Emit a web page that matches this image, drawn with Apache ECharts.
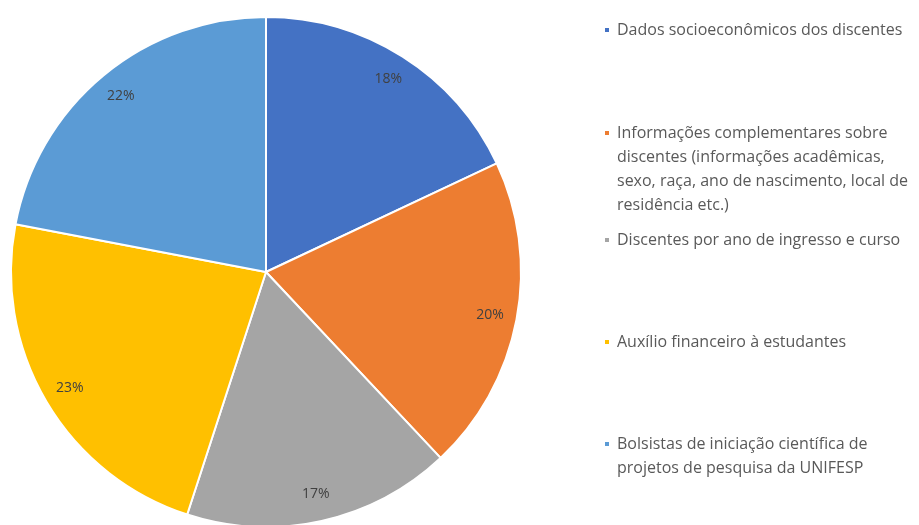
<!DOCTYPE html>
<html>
<head>
<meta charset="utf-8">
<script src="https://cdn.jsdelivr.net/npm/echarts@6/dist/echarts.min.js"></script>
<style>
  html, body { margin: 0; padding: 0; background: #fff; }
  #chart { width: 919px; height: 525px; }
</style>
</head>
<body>
<div id="chart"></div>
<script>
// categories and shares (percent)
const categories = [
    'Dados socioeconômicos dos discentes',
    'Informações complementares sobre discentes (informações acadêmicas, sexo, raça, ano de nascimento, local de residência etc.)',
    'Discentes por ano de ingresso e curso',
    'Auxílio financeiro à estudantes',
    'Bolsistas de iniciação científica de projetos de pesquisa da UNIFESP'
];
const shares = [18, 20, 17, 23, 22];
// how the legend text wraps in the original
const legendLines = [
    ['Dados socioeconômicos dos discentes'],
    ['Informações complementares sobre', 'discentes (informações acadêmicas,', 'sexo, raça, ano de nascimento, local de', 'residência etc.)'],
    ['Discentes por ano de ingresso e curso'],
    ['Auxílio financeiro à estudantes'],
    ['Bolsistas de iniciação científica de', 'projetos de pesquisa da UNIFESP']
];
const colors = ['#4472C4', '#ED7D31', '#A5A5A5', '#FFC000', '#5B9BD5'];

// y of the first text line of each legend entry
const legendLineY = [30, 132, 240, 342, 443];
const LINE_H = 24;
const MARK = 6;

let chart = echarts.init(document.getElementById('chart'));

let pieData = categories.map((name, i) => ({ name: name, value: shares[i] }));

// marker as tall as the text block, with the square drawn beside the first line only
function markerPath(lines) {
    let h = lines * LINE_H;
    let y0 = (LINE_H - MARK) / 2;
    return 'path://M0,0L0.01,0M0,' + h + 'L0.01,' + h +
        'M0,' + y0 + 'h' + MARK + 'v' + MARK + 'h-' + MARK + 'z';
}

let legends = categories.map((name, i) => {
    let n = legendLines[i].length;
    return {
        data: [name],
        orient: 'vertical',
        left: 603,
        top: legendLineY[i] - LINE_H / 2,
        padding: 0,
        icon: n > 1 ? markerPath(n) : 'rect',
        itemWidth: MARK,
        itemHeight: n > 1 ? n * LINE_H : MARK,
        itemGap: 0,
        selectedMode: false,
        textStyle: {
            fontFamily: 'Open Sans',
            fontSize: 16,
            color: '#595959',
            lineHeight: LINE_H,
            padding: [0, 0, 0, 2]
        },
        formatter: function () {
            return legendLines[i].join('\n');
        }
    };
});

let option = {
    animation: false,
    color: colors,
    legend: legends,
    series: [
        {
            type: 'pie',
            center: [266, 272],
            radius: [0, 255],
            startAngle: 90,
            label: { show: false },
            labelLine: { show: false },
            itemStyle: { borderColor: '#fff', borderWidth: 2 },
            emphasis: { disabled: true },
            data: pieData
        },
        {
            // transparent ring only to place the percent labels near the rim
            type: 'pie',
            center: [266, 272],
            radius: [195, 255],
            startAngle: 90,
            silent: true,
            legendHoverLink: false,
            itemStyle: { color: 'transparent' },
            label: {
                show: true,
                position: 'inside',
                formatter: '{c}%',
                fontFamily: 'Open Sans',
                fontSize: 14,
                color: '#404040'
            },
            labelLine: { show: false },
            data: pieData
        }
    ]
};
chart.setOption(option);
window.addEventListener('resize', function () { chart.resize(); });
</script>
</body>
</html>
